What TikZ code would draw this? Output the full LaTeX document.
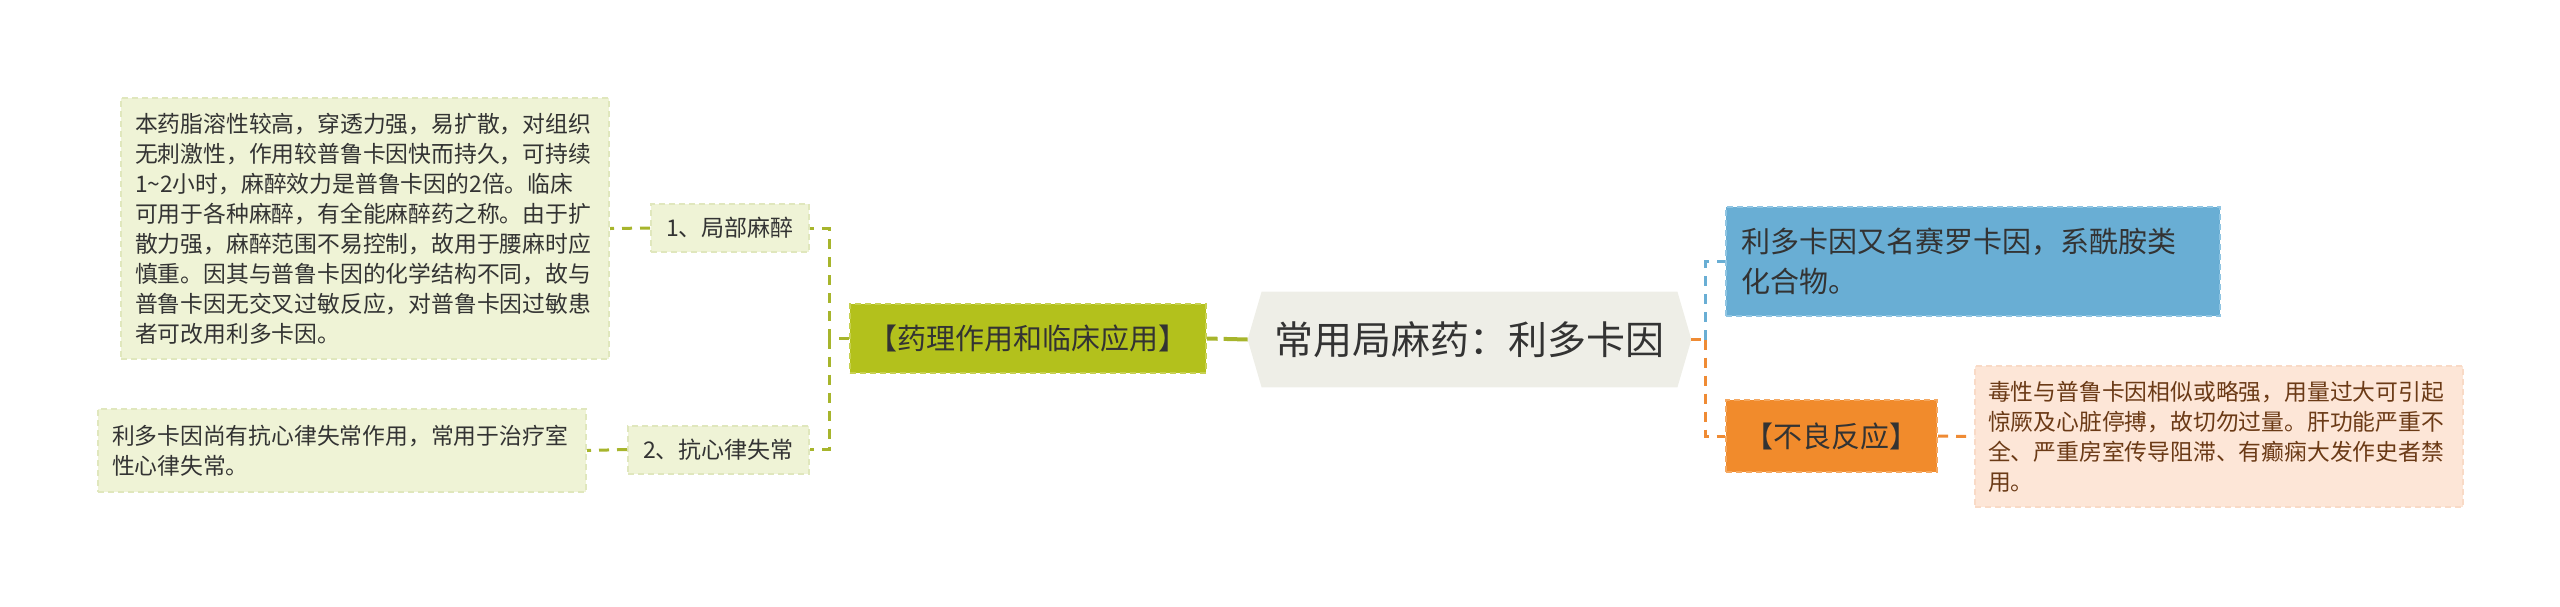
\documentclass[tikz,border=0pt]{standalone}
\usepackage{fontspec}
\setmainfont{Noto Sans CJK SC}
\usetikzlibrary{calc,backgrounds}
\definecolor{lboxfill}{HTML}{EFF3D6}
\definecolor{lboxborder}{HTML}{E0E7BD}
\definecolor{lline}{HTML}{A7B52C}
\definecolor{gfill}{HTML}{B3C11C}
\definecolor{gborder}{HTML}{C7D150}
\definecolor{cfill}{HTML}{EEEEE7}
\definecolor{bfill}{HTML}{69AED4}
\definecolor{bborder}{HTML}{8FC5E3}
\definecolor{ofill}{HTML}{F18B2C}
\definecolor{oborder}{HTML}{F5A860}
\definecolor{pfill}{HTML}{FDE6D7}
\definecolor{pborder}{HTML}{F9DAC6}
\definecolor{bline}{HTML}{69AED4}
\definecolor{oline}{HTML}{EF8B34}
\definecolor{ptext}{HTML}{6B3A16}
\definecolor{dtext}{HTML}{333333}
\begin{document}
\begin{tikzpicture}[x=0.5pt,y=-0.5pt,
  every node/.style={inner sep=0pt, text=dtext},
  basebox/.style={rectangle, dashed, line width=1pt, dash pattern=on 3pt off 2pt},
  leafbox/.style={basebox, fill=lboxfill, draw=lboxborder, align=left,
     font=\fontsize{11.4pt}{15pt}\selectfont},
  subbox/.style={basebox, fill=lboxfill, draw=lboxborder, align=center,
     font=\fontsize{11.5pt}{15pt}\selectfont},
  lconn/.style={draw=lline, line width=1.5pt, dash pattern=on 5pt off 4pt},
  gconn/.style={draw=lline, line width=2pt, dash pattern=on 12pt off 3pt},
  bconn/.style={draw=bline, line width=1.5pt, dash pattern=on 5pt off 4pt},
  oconn/.style={draw=oline, line width=1.5pt, dash pattern=on 5pt off 4pt}]
\useasboundingbox (0,0) rectangle (2560,606);

% left leaves
\node[leafbox, text width=230pt, inner xsep=7pt, minimum height=130.5pt] (t1) at (365,228.5)
 {本药脂溶性较高，穿透力强，易扩散，对组织\\
  无刺激性，作用较普鲁卡因快而持久，可持续\\
  1\textasciitilde 2小时，麻醉效力是普鲁卡因的2倍。临床\\
  可用于各种麻醉，有全能麻醉药之称。由于扩\\
  散力强，麻醉范围不易控制，故用于腰麻时应\\
  慎重。因其与普鲁卡因的化学结构不同，故与\\
  普鲁卡因无交叉过敏反应，对普鲁卡因过敏患\\
  者可改用利多卡因。};
\node[leafbox, text width=230pt, inner xsep=7pt, minimum height=41.5pt] (t2) at (342,450.5)
 {利多卡因尚有抗心律失常作用，常用于治疗室\\
  性心律失常。};

% sub nodes
\node[subbox, minimum width=79pt, minimum height=24pt] (n1) at (730,228) {1、局部麻醉};
\node[subbox, minimum width=90.5pt, minimum height=24pt] (n2) at (718.5,449.5) {2、抗心律失常};

% green branch
\node[basebox, fill=gfill, draw=gborder, minimum width=178pt, minimum height=34.5pt,
  font=\fontsize{14.5pt}{18pt}\selectfont] (g) at (1028,338.5) {【药理作用和临床应用】};

% center
\node[minimum width=221.5pt, minimum height=47.5pt,
  font=\fontsize{19.5pt}{24pt}\selectfont] (c) at (1469.5,339.5) {常用局麻药：利多卡因};
\begin{scope}[on background layer]
\fill[cfill] (c.west) -- ($(c.north west)+(14,0)$) -- ($(c.north east)+(-14,0)$) -- (c.east)
  -- ($(c.south east)+(-14,0)$) -- ($(c.south west)+(14,0)$) -- cycle;
\end{scope}

% right side
\node[basebox, fill=bfill, draw=bborder, align=left, text width=232pt, inner xsep=7.5pt,
  minimum height=54.5pt, font=\fontsize{14.5pt}{20pt}\selectfont] (b) at (1973,261.5)
 {利多卡因又名赛罗卡因，系酰胺类\\化合物。};
\node[basebox, fill=ofill, draw=oborder, minimum width=105.5pt, minimum height=36pt,
  font=\fontsize{14.5pt}{18pt}\selectfont] (o) at (1831.5,436) {【不良反应】};
\node[basebox, fill=pfill, draw=pborder, align=left, text width=231pt, inner xsep=6.5pt,
  minimum height=70.5pt, text=ptext, font=\fontsize{11.4pt}{15pt}\selectfont] (p) at (2219,436.5)
 {毒性与普鲁卡因相似或略强，用量过大可引起\\
  惊厥及心脏停搏，故切勿过量。肝功能严重不\\
  全、严重房室传导阻滞、有癫痫大发作史者禁\\
  用。};

% connectors
\coordinate (jl) at (829,338.5);
\coordinate (jr) at (1705,339.5);
\draw[lconn] (n1.west) -- (t1.east);
\draw[lconn] (n2.west) -- (t2.east);
\draw[lconn] (g.west) -- (jl);
\draw[lconn] (jl) |- (n1.east);
\draw[lconn] (jl) |- (n2.east);
\draw[gconn] (c.west) -- (g.east);
\draw[oconn] (c.east) -- (jr);
\draw[bconn] (jr) |- (b.west);
\draw[oconn] (jr) |- (o.west);
\draw[oconn] (o.east) -- (p.west);
\end{tikzpicture}
\end{document}
